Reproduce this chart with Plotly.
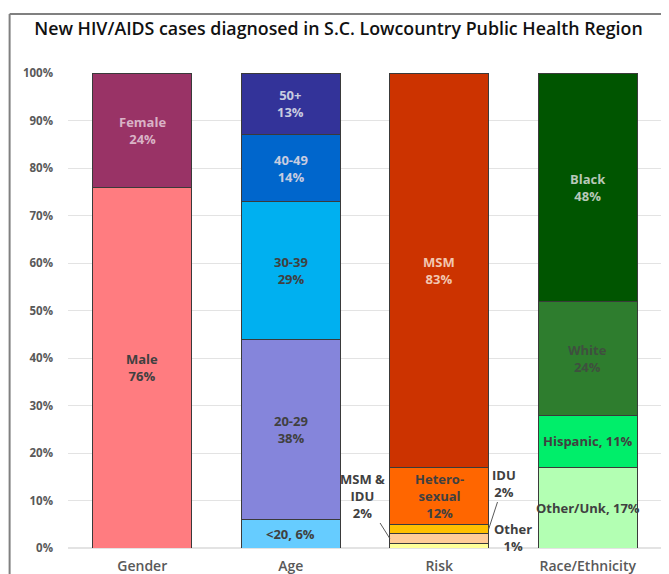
import plotly.graph_objects as go

categories = ["Gender", "Age", "Risk", "Race/Ethnicity"]

gender_labels = ["Male", "Female"]
gender_values = [76, 24]
gender_colors = ["#FF7C80", "#993366"]
gender_text_colors = ["#404040", "#D9B3C6"]

age_labels = ["<20", "20-29", "30-39", "40-49", "50+"]
age_values = [6, 38, 29, 14, 13]
age_colors = ["#66CCFF", "#8585DB", "#00B0F0", "#0066CC", "#333399"]
age_text_colors = ["#404040", "#404040", "#404040", "#C8CCE0", "#C8CCE0"]

risk_labels = ["Other", "MSM & IDU", "IDU", "Hetero-<br>sexual", "MSM"]
risk_values = [1, 2, 2, 12, 83]
risk_colors = ["#FFFF99", "#FFCC99", "#FFC000", "#FF6600", "#CC3300"]
risk_text_colors = ["#404040", "#404040", "#404040", "#404040", "#F2C6B0"]

race_labels = ["Other/Unk", "Hispanic", "White", "Black"]
race_values = [17, 11, 24, 48]
race_colors = ["#B3FFB3", "#00EE6A", "#2E7D2E", "#005500"]
race_text_colors = ["#404040", "#404040", "#3F4F3F", "#B8C8B8"]

y_tick_vals = list(range(0, 101, 10))
y_tick_text = [f"{v}%" for v in y_tick_vals]

groups = [
    ("Gender", gender_labels, gender_values, gender_colors, gender_text_colors),
    ("Age", age_labels, age_values, age_colors, age_text_colors),
    ("Risk", risk_labels, risk_values, risk_colors, risk_text_colors),
    ("Race/Ethnicity", race_labels, race_values, race_colors, race_text_colors),
]

fig = go.Figure()
annotations = []
LABEL_FONT = dict(family="Open Sans", size=13, weight="bold")

for cat, labels, values, colors, tcolors in groups:
    cum = 0
    cat_idx = categories.index(cat)
    for lab, val, col, tc in zip(labels, values, colors, tcolors):
        fig.add_trace(go.Bar(
            x=[cat], y=[val], marker=dict(color=col, line=dict(color="#3a3a3a", width=1)),
            showlegend=False, hoverinfo="skip",
        ))
        mid = cum + val / 2
        if cat == "Risk" and lab == "MSM & IDU":
            annotations.append(dict(
                x=cat_idx - 0.333, y=mid, xref="x", yref="y",
                text=f"MSM &amp;<br>IDU<br>{val}%", showarrow=True, arrowhead=0,
                arrowwidth=1, arrowcolor="#595959", ax=-27, ay=-43,
                font=dict(**LABEL_FONT, color=tc), align="center"))
        elif cat == "Risk" and lab == "IDU":
            annotations.append(dict(
                x=cat_idx + 0.333, y=mid, xref="x", yref="y",
                text=f"IDU<br>{val}%", showarrow=True, arrowhead=0,
                arrowwidth=1, arrowcolor="#595959", ax=15, ay=-46,
                font=dict(**LABEL_FONT, color=tc), align="center"))
        elif cat == "Risk" and lab == "Other":
            annotations.append(dict(
                x=cat_idx + 0.333, y=mid, xref="x", yref="y",
                text=f"Other<br>{val}%", showarrow=False,
                xanchor="center", xshift=24, yshift=8,
                font=dict(**LABEL_FONT, color=tc), align="center"))
        elif lab in ("<20", "Hispanic", "Other/Unk"):
            annotations.append(dict(
                x=cat, y=mid, xref="x", yref="y",
                text=f"{lab}, {val}%", showarrow=False,
                font=dict(**LABEL_FONT, color=tc)))
        else:
            annotations.append(dict(
                x=cat, y=mid, xref="x", yref="y",
                text=f"{lab}<br>{val}%", showarrow=False,
                font=dict(**LABEL_FONT, color=tc)))
        cum += val

# partial outer frame of the original chart image
frame = dict(type="line", xref="paper", yref="paper", line=dict(color="#808080", width=2))
shapes = [
    dict(frame, x0=-0.0983, x1=-0.0983, y0=-0.2, y1=1.1242),
    dict(frame, x0=-0.0983, x1=1.2, y0=1.1242, y1=1.1242),
]

fig.update_layout(
    barmode="stack",
    bargap=0.335,
    width=661, height=566,
    margin=dict(l=59.5, r=6.5, t=65, b=26),
    paper_bgcolor="white", plot_bgcolor="white",
    title=dict(text="New HIV/AIDS cases diagnosed in S.C. Lowcountry Public Health Region",
               x=0.5, xanchor="center", y=0.964, yanchor="middle",
               font=dict(family="Open Sans", size=17.8, color="#111111", weight=600)),
    annotations=annotations,
    shapes=shapes,
    font=dict(family="Open Sans"),
)
fig.update_xaxes(categoryorder="array", categoryarray=categories, automargin=False,
                 tickfont=dict(family="Open Sans", size=14, color="#595959", weight=600),
                 showline=False, ticks="", ticklabelstandoff=8)
fig.update_yaxes(range=[0, 100], tickvals=y_tick_vals, ticktext=y_tick_text, automargin=False,
                 tickfont=dict(family="Open Sans", size=11.5, color="#595959", weight="bold"),
                 gridcolor="#E3E3E3", gridwidth=1, zeroline=True, zerolinecolor="#E3E3E3",
                 showline=False, ticks="", ticklabelstandoff=14)

fig.write_html("out.html")
